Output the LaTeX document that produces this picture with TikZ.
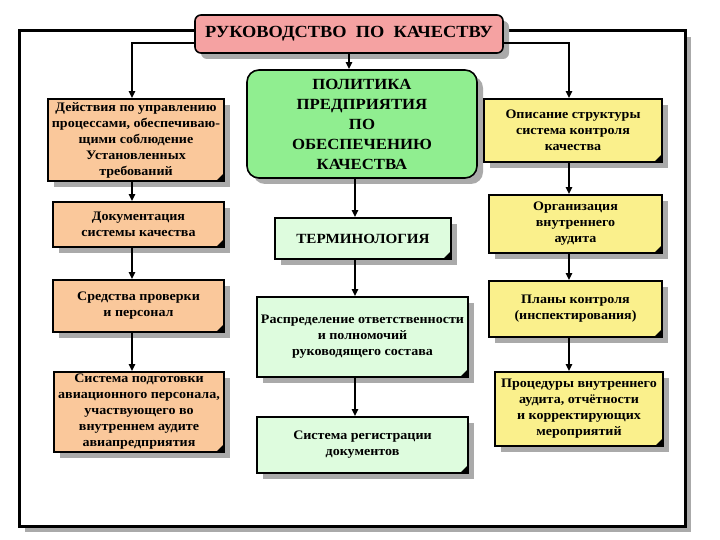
\documentclass[tikz,border=0pt]{standalone}
\usepackage{fontspec}
\setmainfont{Liberation Serif}[FakeStretch=1.08]
\usetikzlibrary{shadows,arrows.meta}
\definecolor{pinkf}{RGB}{245,162,162}
\definecolor{greenf}{RGB}{144,238,144}
\definecolor{lgreenf}{RGB}{222,252,222}
\definecolor{peachf}{RGB}{250,200,155}
\definecolor{yellowf}{RGB}{250,240,140}
\definecolor{shadowc}{RGB}{170,170,170}
\tikzset{
  shad/.style={general shadow={fill=shadowc, shadow xshift=6pt, shadow yshift=-6pt}},
  txt/.style={font=\bfseries\fontsize{13}{16}\selectfont, align=center},
  box/.style={draw=black, line width=1.6pt, inner sep=1pt, shad, txt,
    path picture={\fill[black] ([xshift=-8pt]path picture bounding box.south east) -- ([yshift=8pt]path picture bounding box.south east) -- (path picture bounding box.south east) -- cycle;}},
  framebox/.style={draw=black, line width=3pt, fill=white, shad},
  conn/.style={line width=2.2pt, -{Triangle[length=7pt,width=6pt]}},
}
\begin{document}
\begin{tikzpicture}[x=1pt,y=-1pt]
\fill[white] (0,0) rectangle (720,540);
\useasboundingbox (0,0) rectangle (720,540);
\node[framebox, minimum width=666pt, minimum height=495pt] (frame) at (352,278.5) {};
\coordinate (lx) at (132,0);
\coordinate (mx) at (355,0);
\coordinate (rx) at (569,0);
% title
\node[draw=black, line width=1.6pt, fill=pinkf, rounded corners=6pt, shad, minimum width=308pt, minimum height=38pt,
  font=\bfseries\fontsize{17}{20}\selectfont] (title) at (349,34) {РУКОВОДСТВО\ \ ПО\ \ КАЧЕСТВУ};
% left column
\node[box, fill=peachf, minimum width=176pt, minimum height=82pt] (L1) at (136,140)
  {Действия по управлению\\процессами, обеспечиваю-\\щими соблюдение\\Установленных\\требований};
\node[box, fill=peachf, minimum width=171pt, minimum height=45pt] (L2) at (138.5,224.5)
  {Документация\\системы качества};
\node[box, fill=peachf, minimum width=171pt, minimum height=52pt] (L3) at (138.5,306)
  {Средства проверки\\и персонал};
\node[box, fill=peachf, minimum width=170pt, minimum height=80pt] (L4) at (139,412)
  {Система подготовки\\авиационного персонала,\\участвующего во\\внутреннем аудите\\авиапредприятия};
% middle column
\node[draw=black, line width=1.6pt, fill=greenf, rounded corners=12pt, shad, minimum width=230pt, minimum height=108pt,
  align=center, font=\bfseries\fontsize{15.5}{20}\selectfont] (M1) at (362,124)
  {ПОЛИТИКА\\ПРЕДПРИЯТИЯ\\ПО\\ОБЕСПЕЧЕНИЮ\\КАЧЕСТВА};
\node[box, fill=lgreenf, minimum width=176pt, minimum height=41pt, font=\bfseries\fontsize{14}{16}\selectfont] (M2) at (363,238.5) {ТЕРМИНОЛОГИЯ};
\node[box, fill=lgreenf, minimum width=211pt, minimum height=80pt] (M3) at (362.5,337)
  {Распределение ответственности\\и полномочий\\руководящего состава};
\node[box, fill=lgreenf, minimum width=211pt, minimum height=56pt] (M4) at (362.5,445)
  {Система регистрации\\документов};
% right column
\node[box, fill=yellowf, minimum width=178pt, minimum height=63pt] (R1) at (573,130.5)
  {Описание структуры\\система контроля\\качества};
\node[box, fill=yellowf, minimum width=173pt, minimum height=58pt] (R2) at (575.5,224)
  {Организация\\внутреннего\\аудита};
\node[box, fill=yellowf, minimum width=173pt, minimum height=56pt] (R3) at (575.5,309)
  {Планы контроля\\(инспектирования)};
\node[box, fill=yellowf, minimum width=168pt, minimum height=74pt] (R4) at (579,409)
  {Процедуры внутреннего\\аудита, отчётности\\и корректирующих\\мероприятий};
% connectors
\draw[conn] ([yshift=-9pt]title.west) -| (L1.north -| lx);
\draw[conn] ([yshift=-9pt]title.east) -| (R1.north -| rx);
\draw[conn] (title.south) -- (title.south |- M1.north);
\draw[conn] (L1.south -| lx) -- (L2.north -| lx);
\draw[conn] (L2.south -| lx) -- (L3.north -| lx);
\draw[conn] (L3.south -| lx) -- (L4.north -| lx);
\draw[conn] (M1.south -| mx) -- (M2.north -| mx);
\draw[conn] (M2.south -| mx) -- (M3.north -| mx);
\draw[conn] (M3.south -| mx) -- (M4.north -| mx);
\draw[conn] (R1.south -| rx) -- (R2.north -| rx);
\draw[conn] (R2.south -| rx) -- (R3.north -| rx);
\draw[conn] (R3.south -| rx) -- (R4.north -| rx);
\end{tikzpicture}
\end{document}
